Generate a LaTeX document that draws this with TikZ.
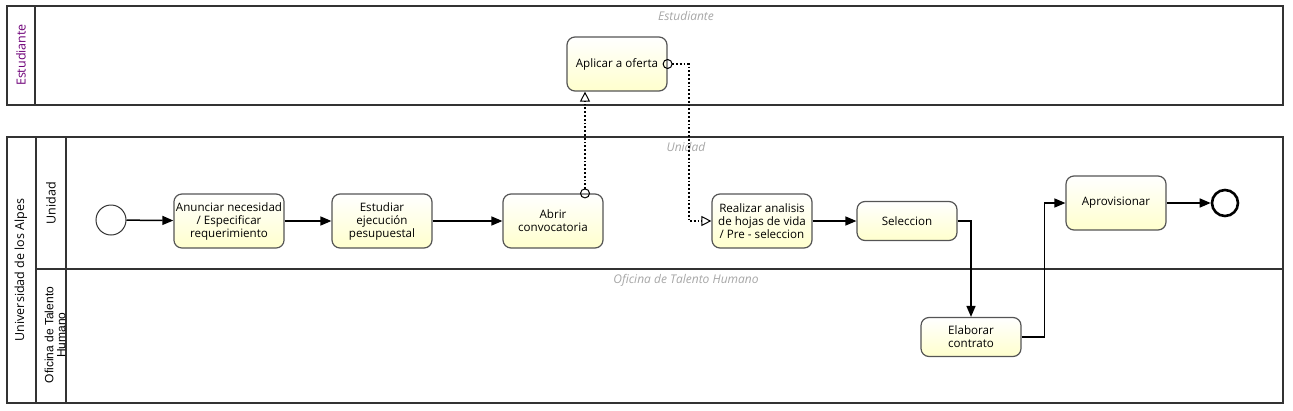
\documentclass[tikz,border=0pt]{standalone}
\usepackage{fontspec}
\setmainfont{Open Sans}
\setsansfont{Liberation Sans}
\usepackage{tikz}
\usetikzlibrary{positioning,arrows.meta}
\definecolor{poolpurple}{RGB}{110,0,120}
\definecolor{taskline}{RGB}{85,85,85}
\definecolor{taskfill}{RGB}{255,255,205}

\begin{document}
\begin{tikzpicture}[x=1pt, y=-1pt,
  task/.style={shape=rectangle, rounded corners=8pt, draw=taskline, line width=1.2pt,
    top color=white, bottom color=taskfill, align=center, inner sep=2pt,
    minimum width=100pt, minimum height=54pt, font=\fontsize{11.6}{13}\selectfont},
  startevent/.style={shape=circle, draw=black!80, line width=1pt, fill=white, minimum size=30pt, inner sep=0pt},
  endevent/.style={shape=circle, draw=black, line width=2.6pt, fill=white, minimum size=26pt, inner sep=0pt},
  flow/.style={line width=1.5pt, -{Triangle[length=11pt,width=9pt]}},
  message/.style={line width=1.8pt, dotted, {Circle[open,length=10pt,width=10pt,line width=1pt,sep=0pt]}-{Triangle[open,length=10pt,width=10pt,line width=1pt]}, shorten <=-5pt},
  pool/.style={draw=black!80, line width=1.6pt},
  poollabel/.style={rotate=90, font=\fontsize{12.5}{13}\selectfont},
  lanelabel/.style={font=\fontsize{12}{13}\selectfont\itshape, text=black!35}]
\useasboundingbox (0,0) rectangle (1293,410);

% pools and lanes
\draw[pool] (7,6) rectangle (1283,105);
\draw[pool] (35,6) -- (35,105);
\draw[pool] (7,137) rectangle (1283,403);
\draw[pool] (36,137) -- (36,403);
\draw[pool] (66,137) -- (66,403);
\draw[pool] (36,269) -- (1283,269);

\node[poollabel, text=poolpurple] (estlabel) at (21,55) {Estudiante};
\node[poollabel] (unilabel) at (21,270) {Universidad de los Alpes};
\node[poollabel] (unidadlabel) at (51,203) {Unidad};
\node[poollabel, font=\sffamily\fontsize{12}{12}\selectfont, align=center] (oficinalabel) at (55,335) {Oficina de Talento\\Humano};

\node[lanelabel] (estlane) at (686,16) {Estudiante};
\node[lanelabel] (unidadlane) at (686,147) {Unidad};
\node[lanelabel] (oficinalane) at (686,280) {Oficina de Talento Humano};

% process
\node[startevent] (inicio) at (111,220) {};
\node[task] (anunciar) at (229,221) {Anunciar necesidad\\/ Especificar\\requerimiento};
\node[task] (estudiar) at (382,221) {Estudiar\\ejecución\\pesupuestal};
\node[task] (abrir) at (553,221) {Abrir\\convocatoria};
\node[task] (aplicar) at (617,64) {Aplicar a oferta};
\node[task] (realizar) at (762,221) {Realizar analisis\\de hojas de vida\\/ Pre - seleccion};
\node[task, minimum height=39pt] (seleccion) at (907,221) {Seleccion};
\node[task, minimum height=39pt] (elaborar) at (971,337) {Elaborar\\contrato};
\node[task] (aprovisionar) at (1116,203) {Aprovisionar};
\node[endevent] (fin) at (1225,203) {};

\draw[flow] (inicio) -- (anunciar);
\draw[flow] (anunciar) -- (estudiar);
\draw[flow] (estudiar) -- (abrir);
\draw[flow] (realizar) -- (seleccion);
\draw[flow] (seleccion.east) -| (elaborar.north);
\draw[flow] (elaborar.east) -- ++(23,0) |- (aprovisionar.west);
\draw[flow] (aprovisionar) -- (fin);

\draw[message] ([xshift=32pt]abrir.north) -- ([xshift=-32pt]aplicar.south);
\draw[message] (aplicar.east) -- ++(21,0) |- (realizar.west);
\end{tikzpicture}
\end{document}
